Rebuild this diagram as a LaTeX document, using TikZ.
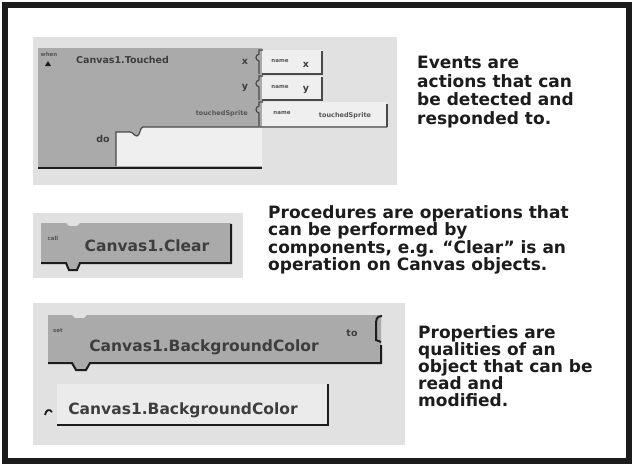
\documentclass[tikz,border=0pt]{standalone}
\usepackage{fontspec}
\setmainfont{DejaVu Sans}
\definecolor{bggray}{HTML}{E1E1E1}
\definecolor{blockgray}{HTML}{AAAAAA}
\definecolor{slotc}{HTML}{EFEFEF}
\definecolor{ink}{HTML}{1C1C1C}
\begin{document}
\begin{tikzpicture}[x=1pt,y=-1pt,
  desc/.style={anchor=north west, inner sep=0, align=left, text=ink,
    font=\bfseries\fontsize{17}{17}\selectfont},
  blk/.style={font=\bfseries\fontsize{15.5}{17}\selectfont, text=ink!85, inner sep=0},
  tinylab/.style={font=\bfseries\fontsize{5.5}{6}\selectfont, text=ink!75, inner sep=0},
  smalllab/.style={font=\bfseries\fontsize{9.5}{11}\selectfont, text=ink!85, inner sep=0},
  darkedge/.style={draw=ink, line width=2},
  thinedge/.style={draw=ink!80, line width=1.2}]
\useasboundingbox (0,0) rectangle (635,469);
\fill[white] (0,0) rectangle (635,469);
% outer frame
\draw[line width=6, ink] (5,5) rectangle (629,461);

% ================= Events =================
\fill[bggray] (33,37) rectangle (397,185);
\fill[blockgray] (38,48) rectangle (262,168);
% do slot
\fill[slotc] (116,132) -- (130,132) .. controls (133,132) and (134,136) .. (137,136)
  .. controls (140,136) and (140,127) .. (143,127) -- (262,127) -- (262,166) -- (116,166) -- cycle;
\draw[thinedge] (116,166) -- (116,132) -- (130,132) .. controls (133,132) and (134,136) .. (137,136)
  .. controls (140,136) and (140,127) .. (143,127) -- (387,127);
\draw[darkedge] (38,168) -- (262,168);
% name blocks
\fill[slotc] (262,50) rectangle (322,74);
\fill[slotc] (262,76) rectangle (322,100);
\fill[slotc] (262,102) rectangle (387,126);
\draw[thinedge] (262,74) -- (322,74) -- (322,51);
\draw[thinedge] (262,100) -- (322,100) -- (322,77);
\draw[thinedge] (387,104) -- (387,127);
% sockets on the right edge of the event block
\foreach \t/\b in {50/74, 76/100, 102/126}{
  \draw[thinedge] (263,\t) -- (259,\t) -- (259,\t+4) .. controls (255,\t+5) and (255,\t+10) .. (259,\t+11) -- (259,\b);
}
\node[tinylab] (when) at (49,54) {when};
\fill[ink] (45,66) -- (48,61) -- (51,66) -- cycle;
\node[smalllab, anchor=west] (touched) at (76,60) {Canvas1.Touched};
\node[smalllab] (xlab) at (245,62) {x};
\node[smalllab] (ylab) at (245,88) {y};
\node[tinylab, font=\bfseries\fontsize{6.5}{7}\selectfont, anchor=east] (tslab) at (248,114) {touchedSprite};
\node[smalllab] (dolab) at (103,139) {do};
\node[tinylab] (n1) at (280,61) {name};
\node[smalllab] (n1v) at (306,65) {x};
\node[tinylab] (n2) at (280,87) {name};
\node[smalllab] (n2v) at (306,90) {y};
\node[tinylab] (n3) at (282,113) {name};
\node[tinylab, font=\bfseries\fontsize{6.5}{7}\selectfont] (n3v) at (345,116) {touchedSprite};
\node[desc, font=\bfseries\fontsize{17}{18.5}\selectfont] (evtext) at (417,56) {Events are\\actions that can\\be detected and\\responded to.};

% ================= Procedures =================
\fill[bggray] (33,213) rectangle (243,278);
\fill[blockgray] (41,223) -- (66,223) -- (69,226) -- (77,226) -- (80,223) -- (231,223) -- (231,263)
  -- (80,263) -- (77,270) -- (69,270) -- (66,263) -- (41,263) -- cycle;
\draw[darkedge] (41,263) -- (66,263) -- (69,270) -- (77,270) -- (80,263) -- (231,263) -- (231,224);
\node[tinylab] (call) at (53,238) {call};
\node[blk] (clear) at (147,246) {Canvas1.Clear};
\node[desc, font=\bfseries\fontsize{17}{16.3}\selectfont] (prtext) at (268,205) {Procedures are operations that\\can be performed by\\components, e.g. ``Clear'' is an\\operation on Canvas objects.};

% ================= Properties =================
\fill[bggray] (33,303) rectangle (405,445);
% setter
\fill[blockgray] (48,315) -- (72,315) -- (75,318) -- (84,318) -- (87,315) -- (381,315) -- (381,363)
  -- (90,363) -- (86,370) -- (76,370) -- (72,363) -- (48,363) -- cycle;
\draw[darkedge] (48,363) -- (72,363) -- (76,370) -- (86,370) -- (90,363) -- (381,363) -- (381,345);
\draw[darkedge] (382,316) .. controls (376,316) and (376,320) .. (376,326) -- (376,340) -- (381,342);
\node[tinylab] (setlab) at (58,331) {set};
\node[smalllab] (tolab) at (352,333) {to};
\node[blk] (setbg) at (204,347) {Canvas1.BackgroundColor};
% getter
\fill[slotc!70!bggray] (57,384) rectangle (328,425);
\draw[darkedge] (57,425) -- (328,425) -- (328,384);
\draw[darkedge, line width=1.8] (45,415) .. controls (46,409) and (50,409) .. (52,412);
\node[blk] (getbg) at (183,410) {Canvas1.BackgroundColor};
\node[desc, font=\bfseries\fontsize{17}{17}\selectfont] (pptext) at (418,325) {Properties are\\qualities of an\\object that can be\\read and\\modified.};
\end{tikzpicture}
\end{document}
